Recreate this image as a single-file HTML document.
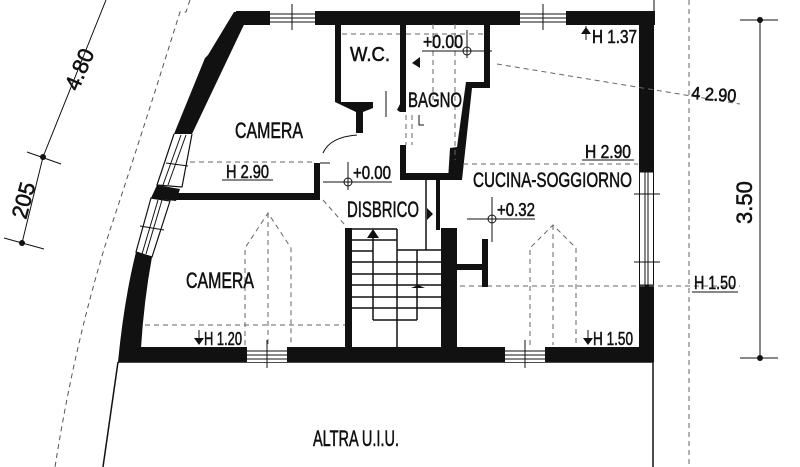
<!DOCTYPE html>
<html><head><meta charset="utf-8"><style>
html,body{margin:0;padding:0;background:#fff;}
svg{display:block;}
text{font-family:"Liberation Sans Narrow","Liberation Sans",sans-serif;fill:#111;stroke:#111;stroke-width:0.55;}
</style></head><body>
<svg width="800" height="467" viewBox="0 0 800 467" xmlns="http://www.w3.org/2000/svg">
<rect width="800" height="467" fill="#fff"/>
<path d="M190,0 L186,12 L180,12 Q140,140 110,230 Q75,340 55,467" fill="none" stroke="#555" stroke-width="1" stroke-dasharray="5,4"/>
<path d="M106,0 L43,157 L22,243" fill="none" stroke="#111" stroke-width="1"/>
<line x1="27" y1="152" x2="61" y2="164" stroke="#111"/>
<line x1="4" y1="238" x2="44" y2="249" stroke="#111"/>
<circle cx="43" cy="157" r="3" fill="#111"/><circle cx="22" cy="243" r="3" fill="#111"/>
<text x="0" y="0" font-size="22" transform="translate(78,92) rotate(-67)">4.80</text>
<text x="0" y="0" font-size="22" transform="translate(26,220) rotate(-75)">205</text>

<path d="M234,12 L250,12 L192,134 L174,134 L205,58 L208,55Z" fill="#111"/>
<path d="M192,134 L182,187 L157,185 L174,134" fill="none" stroke="#111" stroke-width="1.2"/>
<line x1="181" y1="135" x2="163" y2="185" stroke="#111"/><line x1="186" y1="135" x2="168" y2="185" stroke="#111"/>
<line x1="166" y1="163" x2="188" y2="166" stroke="#111"/>
<path d="M157,185 L180,189 L176,201 L151,198Z" fill="#111"/>
<path d="M151,198 L170,201 L152,257 L136,252Z" fill="none" stroke="#111" stroke-width="1.2"/>
<line x1="158" y1="200" x2="142" y2="254" stroke="#111"/><line x1="162" y1="200" x2="146" y2="254" stroke="#111"/>
<line x1="140" y1="226" x2="164" y2="230" stroke="#111"/>
<path d="M136,252 L152,257 Q144,300 141,348 L141,362 L118,362 Q124,300 136,252Z" fill="#111"/>
<line x1="118" y1="362" x2="103" y2="467" stroke="#111" stroke-width="1.5"/>
<line x1="118" y1="362" x2="653" y2="362" stroke="#111" stroke-width="1.5"/>
<line x1="653" y1="362" x2="653" y2="467" stroke="#111" stroke-width="1.5"/>

<rect x="236" y="11" width="419" height="14" fill="#111"/>
<rect x="270" y="11" width="45" height="14" fill="#fff"/>
<g stroke="#111" stroke-width="1"><line x1="270" y1="14" x2="315" y2="14"/><line x1="270" y1="18" x2="315" y2="18"/><line x1="270" y1="22" x2="315" y2="22"/><line x1="292" y1="4" x2="292" y2="30"/></g>
<rect x="520" y="11" width="46" height="14" fill="#fff"/>
<g stroke="#111" stroke-width="1"><line x1="520" y1="14" x2="566" y2="14"/><line x1="520" y1="18" x2="566" y2="18"/><line x1="520" y1="22" x2="566" y2="22"/><line x1="543" y1="4" x2="543" y2="30"/></g>
<rect x="639" y="11" width="15" height="161" fill="#111"/>
<rect x="639" y="285" width="15" height="77" fill="#111"/>
<g stroke="#111" stroke-width="1" fill="none"><rect x="639.5" y="172" width="14" height="113"/><line x1="645" y1="172" x2="645" y2="285"/><line x1="648" y1="172" x2="648" y2="285"/><line x1="634" y1="194" x2="660" y2="194"/><line x1="634" y1="262" x2="660" y2="262"/></g>
<line x1="654" y1="0" x2="654" y2="11" stroke="#111"/>
<rect x="128" y="347" width="526" height="15" fill="#111"/>
<rect x="247" y="347" width="40" height="15" fill="#fff"/>
<g stroke="#111"><line x1="247" y1="351" x2="287" y2="351"/><line x1="247" y1="355" x2="287" y2="355"/><line x1="247" y1="359" x2="287" y2="359"/><line x1="267" y1="340" x2="267" y2="368"/></g>
<rect x="505" y="347" width="40" height="15" fill="#fff"/>
<g stroke="#111"><line x1="505" y1="351" x2="545" y2="351"/><line x1="505" y1="355" x2="545" y2="355"/><line x1="505" y1="359" x2="545" y2="359"/><line x1="525" y1="340" x2="525" y2="368"/></g>

<rect x="176" y="193" width="144" height="7" fill="#111"/>
<rect x="314" y="163" width="6" height="37" fill="#111"/>
<line x1="320" y1="163" x2="330" y2="163" stroke="#111"/>
<path d="M335,24 L341,24 L341,102 L373,102 L373,108 L363,112 L363,133 L356,133 L356,112 L335,102Z" fill="#111"/>
<path d="M323,153 Q330,137 357,135" fill="none" stroke="#111" stroke-width="1"/>
<line x1="386" y1="91" x2="386" y2="117" stroke="#111"/>
<rect x="400" y="24" width="6" height="88" fill="#111"/>
<path d="M397,110 L400,104 L400,112Z" fill="#111"/>
<rect x="400" y="145" width="6" height="35" fill="#111"/>
<rect x="400" y="173" width="62" height="7" fill="#111"/>
<path d="M484,24 L490,24 L490,88 L472,88 L462,180 L448,180 L450,148 L457,147 L466,82 L484,82Z" fill="#111"/>
<path d="M412,63 L420,57 L420,68Z" fill="#111"/>
<g stroke="#666" stroke-width="1" stroke-dasharray="5,4" fill="none">
<line x1="342" y1="34" x2="400" y2="34"/>
<line x1="406" y1="34" x2="484" y2="34"/>
<line x1="455" y1="24" x2="455" y2="160"/>
<line x1="433" y1="24" x2="433" y2="100"/>
<line x1="406" y1="115" x2="406" y2="145"/>
<line x1="412" y1="115" x2="412" y2="145"/>
<line x1="497" y1="64" x2="740" y2="104"/>
<line x1="190" y1="162" x2="314" y2="162"/>
<line x1="463" y1="164" x2="638" y2="164"/>
<line x1="323" y1="200" x2="345" y2="225"/>
<line x1="145" y1="325" x2="345" y2="325"/>
<line x1="460" y1="286" x2="740" y2="286"/>
<line x1="689" y1="0" x2="689" y2="467"/>
<path d="M245,345 L245,248 L268,213 L291,248 L291,345"/>
<line x1="268" y1="213" x2="268" y2="345"/>
<path d="M530,345 L530,248 L553,225 L576,248 L576,345"/>
<line x1="553" y1="225" x2="553" y2="345"/>
</g>
<path d="M419,115 L419,125 L424,125" fill="none" stroke="#111"/>
<line x1="426" y1="180" x2="426" y2="250" stroke="#111" stroke-width="1.5"/>
<rect x="436" y="180" width="4" height="50" fill="#111"/>
<path d="M427,208 L433,214 L427,220Z" fill="#111"/>
<rect x="441" y="228" width="16" height="120" fill="#111"/>
<rect x="456" y="264" width="28" height="6" fill="#111"/>
<rect x="482" y="239" width="6" height="48" fill="#111"/>
<rect x="345" y="228" width="7" height="120" fill="#111"/>
<g stroke="#111" stroke-width="1.5" fill="none">
<line x1="352" y1="229" x2="397" y2="229"/>
<line x1="397" y1="229" x2="397" y2="348"/>
<line x1="397" y1="250" x2="441" y2="250"/>
<line x1="373" y1="238" x2="373" y2="320"/>
<line x1="373" y1="320" x2="397" y2="320"/>
<line x1="417" y1="250" x2="417" y2="320"/>
<line x1="397" y1="320" x2="417" y2="320"/>
<line x1="352" y1="240" x2="397" y2="240"/>
<line x1="352" y1="262" x2="441" y2="262"/>
<line x1="352" y1="274" x2="441" y2="274"/>
<line x1="352" y1="285" x2="441" y2="285"/>
<line x1="352" y1="297" x2="441" y2="297"/>
<line x1="352" y1="308" x2="441" y2="308"/>
<line x1="352" y1="251" x2="373" y2="251"/>
</g>
<path d="M367,238 L373,229 L379,238Z" fill="#111"/>
<path d="M411,288 L418,285 L425,288Z" fill="#111"/>

<g stroke="#111" stroke-width="1" fill="none">
<circle cx="467" cy="51" r="4"/><line x1="422" y1="51" x2="492" y2="51"/><line x1="467" y1="30" x2="467" y2="58"/>
<circle cx="348" cy="182" r="4"/><line x1="323" y1="182" x2="392" y2="182"/><line x1="348" y1="162" x2="348" y2="190"/>
<circle cx="492" cy="219" r="4"/><line x1="467" y1="219" x2="535" y2="219"/><line x1="492" y1="197" x2="492" y2="242"/>
<line x1="222" y1="180" x2="273" y2="180"/>
<line x1="582" y1="160" x2="634" y2="160"/>
<line x1="692" y1="292" x2="738" y2="292"/>
<line x1="760" y1="20" x2="760" y2="358"/>
<line x1="740" y1="20" x2="778" y2="20"/>
<line x1="740" y1="358" x2="778" y2="358"/>
<line x1="586" y1="26" x2="586" y2="40"/>
<line x1="199" y1="330" x2="199" y2="342"/>
<line x1="588" y1="330" x2="588" y2="342"/>
</g>
<circle cx="760" cy="20" r="3" fill="#111"/><circle cx="760" cy="358" r="3" fill="#111"/>
<path d="M581,34 L586,27 L591,34Z" fill="#111"/>
<path d="M194,338 L199,345 L204,338Z" fill="#111"/>
<path d="M583,338 L588,345 L593,338Z" fill="#111"/>

<text x="350" y="61" font-size="20" textLength="40" lengthAdjust="spacingAndGlyphs">W.C.</text>
<text x="423" y="48" font-size="18" textLength="40" lengthAdjust="spacingAndGlyphs">+0.00</text>
<text x="408" y="107" font-size="21" textLength="54" lengthAdjust="spacingAndGlyphs">BAGNO</text>
<text x="235" y="138" font-size="22" textLength="68" lengthAdjust="spacingAndGlyphs">CAMERA</text>
<text x="226" y="178" font-size="18" textLength="43" lengthAdjust="spacingAndGlyphs">H 2.90</text>
<text x="353" y="179" font-size="18" textLength="38" lengthAdjust="spacingAndGlyphs">+0.00</text>
<text x="347" y="217" font-size="22" textLength="72" lengthAdjust="spacingAndGlyphs">DISBRICO</text>
<text x="473" y="187" font-size="21" textLength="159" lengthAdjust="spacingAndGlyphs">CUCINA-SOGGIORNO</text>
<text x="585" y="158" font-size="18" textLength="46" lengthAdjust="spacingAndGlyphs">H  2.90</text>
<text x="497" y="216" font-size="18" textLength="38" lengthAdjust="spacingAndGlyphs">+0.32</text>
<text x="592" y="43" font-size="18" textLength="45" lengthAdjust="spacingAndGlyphs">H 1.37</text>
<text x="691" y="99" font-size="18" textLength="45" lengthAdjust="spacingAndGlyphs" transform="rotate(4 691 99)">4 2.90</text>
<text x="0" y="0" font-size="22" transform="translate(752,224) rotate(-90)">3.50</text>
<text x="186" y="288" font-size="22" textLength="68" lengthAdjust="spacingAndGlyphs">CAMERA</text>
<text x="204" y="345" font-size="18" textLength="38" lengthAdjust="spacingAndGlyphs">H 1.20</text>
<text x="593" y="345" font-size="18" textLength="40" lengthAdjust="spacingAndGlyphs">H 1.50</text>
<text x="694" y="289" font-size="18" textLength="42" lengthAdjust="spacingAndGlyphs">H 1.50</text>
<text x="313" y="446" font-size="22" textLength="86" lengthAdjust="spacingAndGlyphs">ALTRA U.I.U.</text>
</svg>
</body></html>
